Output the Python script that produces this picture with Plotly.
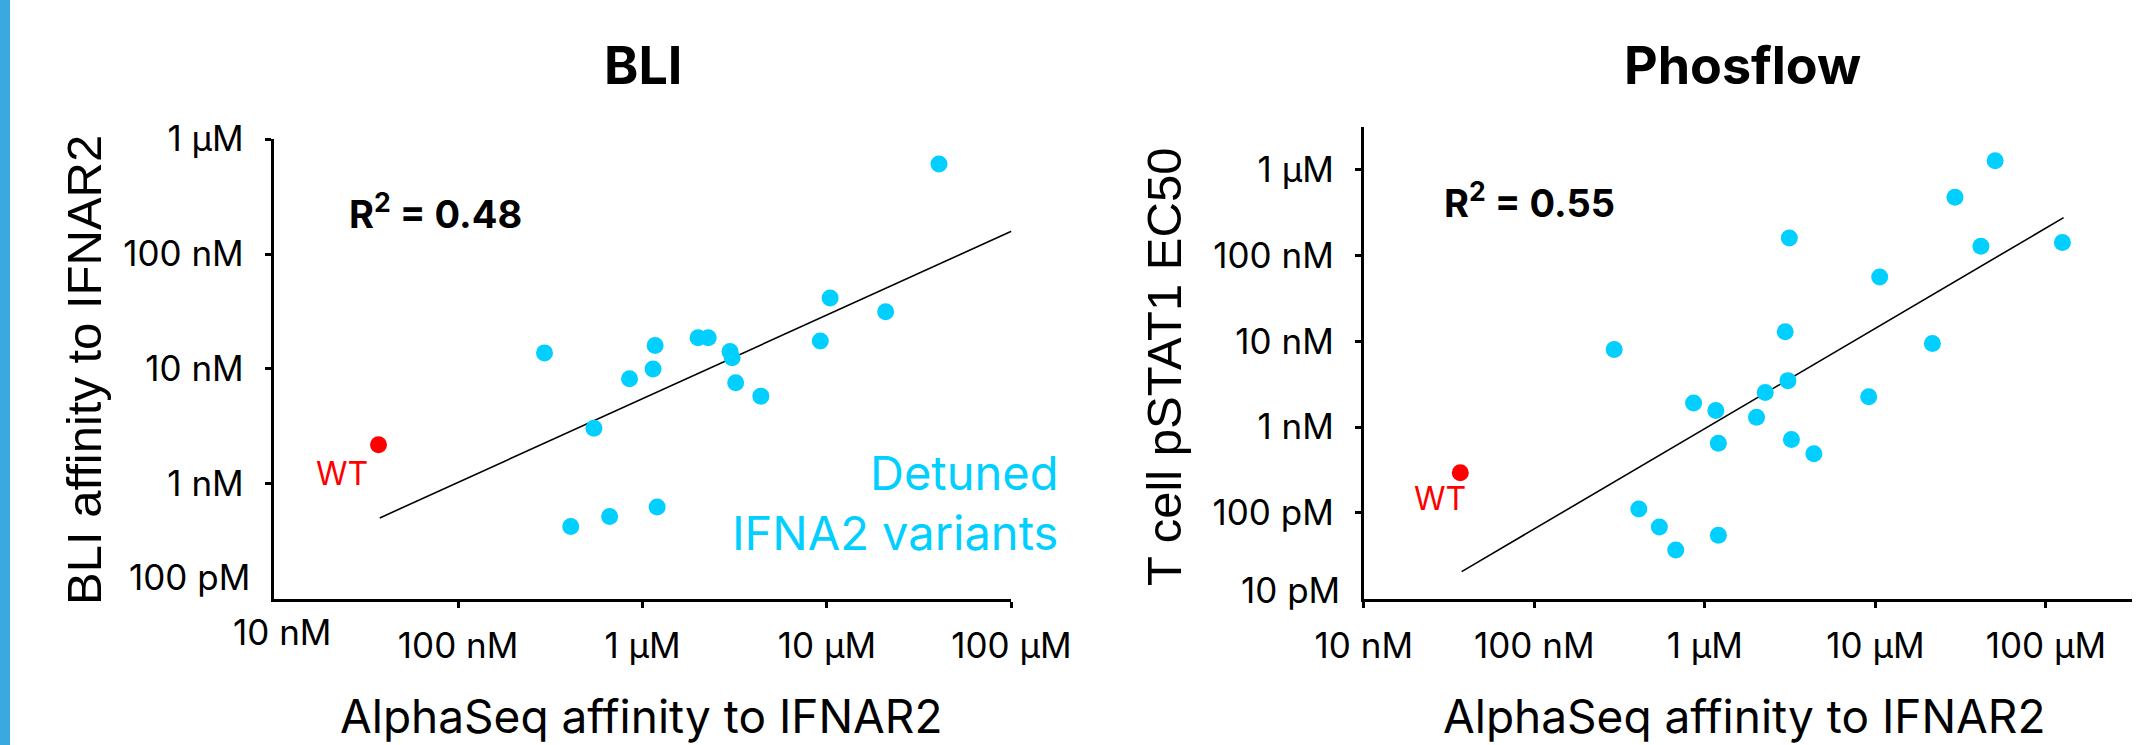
import plotly.graph_objects as go

W, H = 2146, 745

# ---------------- data (concentrations in nM) ----------------
bli_x_nM = [40500, 10400, 20800, 9200, 2000, 2270, 1170, 294, 2980, 3060,
            1140, 850, 3200, 4380, 545, 408, 663, 1200]
bli_y_nM = [609, 41.5, 31.5, 17.5, 18.7, 18.7, 16.0, 13.8, 14.2, 12.5,
            10.0, 8.2, 7.6, 5.8, 3.05, 0.425, 0.52, 0.628]
bli_wt_x_nM = [37]
bli_wt_y_nM = [2.19]
bli_fit_x_nM = [37.6, 100000]
bli_fit_y_nM = [0.505, 158]

phos_x_nM = [50400, 29300, 3130, 41600, 125000, 10600, 2960, 294, 21600, 3070,
             2260, 859, 1160, 9140, 2010, 1200, 3220, 4360, 410, 541, 1200, 675]
phos_y_nM = [1270, 478, 160, 128, 142, 56, 12.9, 8.0, 9.4, 3.48,
             2.53, 1.91, 1.56, 2.26, 1.30, 0.647, 0.716, 0.489, 0.111, 0.0686, 0.055, 0.037]
phos_wt_x_nM = [36.8]
phos_wt_y_nM = [0.293]
phos_fit_x_nM = [37.5, 127000]
phos_fit_y_nM = [0.0207, 276]

x_tickvals = [1e-8, 1e-7, 1e-6, 1e-5, 1e-4]
x_ticktext = ["10 nM", "100 nM", "1 µM", "10 µM", "100 µM"]
bli_y_tickvals = [1e-10, 1e-9, 1e-8, 1e-7, 1e-6]
bli_y_ticktext = ["100 pM", "1 nM", "10 nM", "100 nM", "1 µM"]
phos_y_tickvals = [1e-11, 1e-10, 1e-9, 1e-8, 1e-7, 1e-6]
phos_y_ticktext = ["10 pM", "100 pM", "1 nM", "10 nM", "100 nM", "1 µM"]

r2_bli = 0.48
r2_phos = 0.55

CYAN = "rgb(0,207,255)"
RED = "#ff0000"
FONT = "Inter"
YFONT = "Liberation Sans"

def M(v):
    return [a * 1e-9 for a in v]

def px(x):
    return x / W

def py(y):
    return 1 - y / H

fig = go.Figure()

MS = 17

# BLI panel
fig.add_trace(go.Scatter(x=M(bli_fit_x_nM), y=M(bli_fit_y_nM), mode="lines",
                         line=dict(color="black", width=1.6), xaxis="x", yaxis="y",
                         showlegend=False, hoverinfo="skip"))
fig.add_trace(go.Scatter(x=M(bli_x_nM), y=M(bli_y_nM), mode="markers",
                         marker=dict(color=CYAN, size=MS, line=dict(width=0)), xaxis="x", yaxis="y",
                         showlegend=False))
fig.add_trace(go.Scatter(x=M(bli_wt_x_nM), y=M(bli_wt_y_nM), mode="markers",
                         marker=dict(color=RED, size=MS, line=dict(width=0)), xaxis="x", yaxis="y",
                         showlegend=False))

# Phosflow panel
fig.add_trace(go.Scatter(x=M(phos_fit_x_nM), y=M(phos_fit_y_nM), mode="lines",
                         line=dict(color="black", width=1.6), xaxis="x2", yaxis="y2",
                         showlegend=False, hoverinfo="skip"))
fig.add_trace(go.Scatter(x=M(phos_x_nM), y=M(phos_y_nM), mode="markers",
                         marker=dict(color=CYAN, size=MS, line=dict(width=0)), xaxis="x2", yaxis="y2",
                         showlegend=False))
fig.add_trace(go.Scatter(x=M(phos_wt_x_nM), y=M(phos_wt_y_nM), mode="markers",
                         marker=dict(color=RED, size=MS, line=dict(width=0)), xaxis="x2", yaxis="y2",
                         showlegend=False))

axis_common = dict(type="log", showgrid=False, zeroline=False, showline=True,
                   automargin=False,
                   linecolor="black", linewidth=3, ticks="outside", ticklen=6,
                   tickwidth=3, tickcolor="black",
                   tickfont=dict(family=FONT, size=35, color="black"))

fig.update_layout(
    template="none",
    width=W, height=H,
    margin=dict(l=0, r=0, t=0, b=0, pad=0),
    paper_bgcolor="white", plot_bgcolor="white",
    showlegend=False,
    xaxis=dict(domain=[px(273.7), px(1011.4)], range=[-8, -4], anchor="y",
               tickvals=x_tickvals[1:], ticktext=x_ticktext[1:], ticklabelstandoff=8, **axis_common),
    yaxis=dict(domain=[py(598.7), py(139.2)], range=[-10, -6], anchor="x",
               tickvals=bli_y_tickvals[1:], ticktext=bli_y_ticktext[1:], ticklabelstandoff=14, **axis_common),
    xaxis2=dict(domain=[px(1363.8), px(2132)], range=[-8, -3.495], anchor="y2",
                tickvals=x_tickvals, ticktext=x_ticktext, ticklabelstandoff=8, **axis_common),
    yaxis2=dict(domain=[py(598.7), py(127.3)], range=[-11, -5.506], anchor="x2",
                tickvals=phos_y_tickvals[1:], ticktext=phos_y_ticktext[1:], ticklabelstandoff=14, **axis_common),
)

ann = []
def A(text, x, y, size, color="black", family=FONT, xanchor="center", yanchor="middle",
      angle=0, bold=False):
    ann.append(dict(text=(f"<b>{text}</b>" if bold else text), x=x, y=y, xref="paper", yref="paper",
                    xanchor=xanchor, yanchor=yanchor, showarrow=False, textangle=angle,
                    font=dict(family=family, size=size, color=color)))

# titles
A("BLI", px(643), py(66), 52, bold=True)
A("Phosflow", px(1742), py(66), 52, bold=True)
# x-axis titles
A("AlphaSeq affinity to IFNAR2", px(641), py(716), 46)
A("AlphaSeq affinity to IFNAR2", px(1744), py(716), 46)
# y-axis titles
A("BLI affinity to IFNAR2", px(84), py(370), 49, family=YFONT, angle=-90)
A("T cell pSTAT1 EC50", px(1164), py(367), 49, family=YFONT, angle=-90)
# tick labels drawn with a small offset (as in the reference)
A(x_ticktext[0], px(282), py(632), 35)
A(bli_y_ticktext[0], px(252), py(577), 35, xanchor="right")
A(phos_y_ticktext[0], px(1342), py(590), 35, xanchor="right")
# R^2
A(f"R<sup>2</sup> = {r2_bli:.2f}", px(347), py(211), 38, xanchor="left", bold=True)
A(f"R<sup>2</sup> = {r2_phos:.2f}", px(1442), py(200), 38, xanchor="left", bold=True)
# WT labels
A("WT", px(342), py(473), 32, color=RED)
A("WT", px(1440), py(498), 32, color=RED)
# Detuned label
A("Detuned", px(1060), py(472), 47, color=CYAN, xanchor="right")
A("IFNA2 variants", px(1060), py(532), 47, color=CYAN, xanchor="right")

fig.update_layout(annotations=ann)

# left accent stripe
fig.add_shape(type="rect", xref="paper", yref="paper", x0=0, x1=px(10), y0=0, y1=1,
              fillcolor="#39a9e0", line=dict(width=0), layer="below")

fig.write_html("out.html", config={"displayModeBar": False},
               post_script="document.body.style.margin='0px';document.body.style.overflow='hidden';")
